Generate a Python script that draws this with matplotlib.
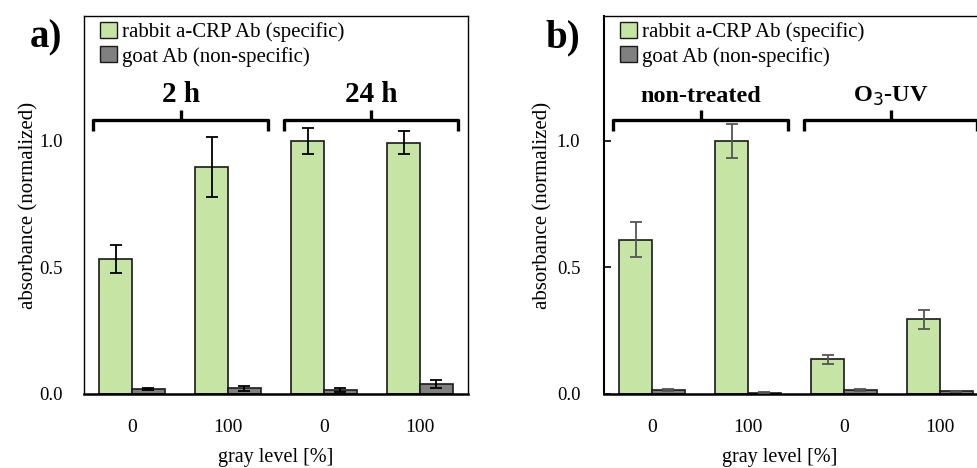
import numpy as np
import matplotlib
matplotlib.use('Agg')
import matplotlib.pyplot as plt
from matplotlib.patches import Patch

plt.rcParams['font.family'] = ['Liberation Serif', 'DejaVu Serif']

ticklabels = ['0', '100', '0', '100']

# panel a: 2 h / 24 h
a_spec = [0.534, 0.897, 1.0, 0.993]
a_spec_err = [0.055, 0.12, 0.05, 0.045]
a_non = [0.02, 0.022, 0.015, 0.04]
a_non_err = [0.004, 0.009, 0.008, 0.015]
a_groups = ['2 h', '24 h']

# panel b: non-treated / O3-UV
b_spec = [0.61, 1.0, 0.138, 0.295]
b_spec_err = [0.068, 0.066, 0.018, 0.037]
b_non = [0.015, 0.005, 0.015, 0.01]
b_non_err = [0.005, 0.002, 0.003, 0.002]
b_groups = ['non-treated', 'O$_3$-UV']

green = '#c6e4a3'
grey = '#808080'
w = 0.34

fig = plt.figure(figsize=(9.78, 4.68), dpi=100)
ax_a = fig.add_axes([84/978, 74/468, 384/978, 378/468])
ax_b = fig.add_axes([604/978, 74/468, 384/978, 378/468])


def draw(ax, spec, spec_err, non, non_err, groups, ecol, gsize, bracket_r):
	x = np.arange(len(spec))
	ax.bar(x - w/2, spec, w, color=green, edgecolor='#1a1a1a', lw=1.2, zorder=2)
	ax.bar(x + w/2, non, w, color=grey, edgecolor='#1a1a1a', lw=1.2, zorder=2)
	ax.errorbar(x - w/2, spec, yerr=spec_err, fmt='none', ecolor=ecol,
		elinewidth=1.3, capsize=4.5, capthick=1.3, zorder=3)
	ax.errorbar(x + w/2, non, yerr=non_err, fmt='none', ecolor=ecol,
		elinewidth=1.3, capsize=4.5, capthick=1.3, zorder=3)
	ax.set_xlim(-0.5, 3.5)
	ax.set_ylim(0, 1.494)
	ax.set_xticks(x)
	ax.set_xticklabels(ticklabels, fontsize=14)
	ax.set_yticks([0, 0.5, 1.0])
	ax.set_yticklabels(['0.0', '0.5', '1.0'], fontsize=13.5)
	ax.tick_params(axis='x', length=0, pad=18)
	ax.set_ylabel('absorbance (normalized)', fontsize=15)
	ax.set_xlabel('gray level [%]', fontsize=14.5)

	# brackets over the two groups
	for i, (lo, hi) in enumerate([(-0.405, 1.417), (1.583, bracket_r)]):
		mid = (lo + hi) / 2
		ax.plot([lo, lo, hi, hi], [1.04, 1.083, 1.083, 1.04], color='black', lw=2.4, solid_capstyle='butt', zorder=4)
		ax.plot([mid, mid], [1.083, 1.124], color='black', lw=2.4, solid_capstyle='butt', zorder=4)
		ax.text(mid, 1.156, groups[i], ha='center', va='baseline', fontsize=gsize, fontweight='bold')

	handles = [Patch(facecolor=green, edgecolor='#1a1a1a', lw=1),
		Patch(facecolor=grey, edgecolor='#1a1a1a', lw=1)]
	ax.legend(handles, ['rabbit a-CRP Ab (specific)', 'goat Ab (non-specific)'],
		loc='upper left', bbox_to_anchor=(0.042, 0.985), borderaxespad=0, borderpad=0,
		frameon=False, fontsize=15, handlelength=0.8, handleheight=0.8,
		handletextpad=0.25, labelspacing=0.22)


draw(ax_a, a_spec, a_spec_err, a_non, a_non_err, a_groups, 'black', 21, 3.396)
draw(ax_b, b_spec, b_spec_err, b_non, b_non_err, b_groups, '#555555', 17.5, 3.39)

for s in ax_a.spines.values():
	s.set_linewidth(1.0)
ax_a.spines['bottom'].set_linewidth(1.8)
ax_a.tick_params(axis='y', length=0, pad=15)
ax_a.yaxis.set_label_coords(-0.118, 0.5)
ax_a.xaxis.set_label_coords(0.5, -0.143)

ax_b.spines['left'].set_linewidth(1.5)
ax_b.spines['top'].set_linewidth(1.0)
ax_b.spines['bottom'].set_linewidth(1.8)
ax_b.tick_params(axis='y', direction='in', length=5, width=1.2, pad=17)
ax_b.yaxis.set_label_coords(-0.133, 0.5)
ax_b.xaxis.set_label_coords(0.458, -0.143)

fig.text(46/978, 1 - 38/468, 'a)', fontsize=28, fontweight='bold', ha='center', va='center')
fig.text(563/978, 1 - 38/468, 'b)', fontsize=28, fontweight='bold', ha='center', va='center')

fig.savefig('out.png', dpi=100)
